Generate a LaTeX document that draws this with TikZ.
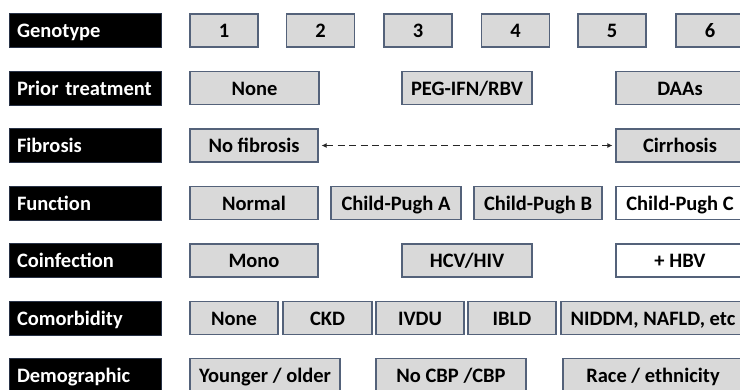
\documentclass[tikz,border=0pt]{standalone}
\usepackage{fontspec}
\setmainfont{Carlito}
\usepackage{tikz}
\usetikzlibrary{arrows.meta, positioning}
\usepackage{xcolor}
\definecolor{boxfill}{RGB}{217, 217, 217}
\definecolor{boxedge}{RGB}{84, 98, 122}
\definecolor{tagedge}{RGB}{40, 50, 70}

\begin{document}
\begin{tikzpicture}[x=1pt, y=-1pt, >=Latex,
    font=\bfseries\fontsize{20.5}{24}\selectfont,
    tag/.style={draw=tagedge, line width=1pt, fill=black, text=white,
      text width=136pt, inner xsep=8pt, inner ysep=0pt, minimum height=34pt,
      text height=16pt, text depth=2pt, align=left},
    opt/.style={draw=boxedge, line width=1.2pt, fill=boxfill,
      minimum height=33pt, inner sep=0pt, text height=16pt, text depth=2pt},
    optw/.style={opt, fill=white}]
  \useasboundingbox (0,0) rectangle (740,389);
  \clip (0,0) rectangle (740,389);

  % row labels
  \node[tag] (gen)   at (85,30.5)  {Genotype};
  \node[tag] (prior) at (85,88)    {Prior treatment};
  \node[tag] (fib)   at (85,145.5) {Fibrosis};
  \node[tag] (func)  at (85,203)   {Function};
  \node[tag] (coinf) at (85,260.5) {Coinfection};
  \node[tag] (comor) at (85,318)   {Comorbidity};
  \node[tag] (demo)  at (85,375)   {Demographic};

  % genotype
  \node[opt, minimum width=68pt] (g1) at (224,30.5)   {1};
  \node[opt, minimum width=68pt] (g2) at (320.5,30.5) {2};
  \node[opt, minimum width=68pt] (g3) at (418,30.5)   {3};
  \node[opt, minimum width=68pt] (g4) at (515.5,30.5) {4};
  \node[opt, minimum width=68pt] (g5) at (612,30.5)   {5};
  \node[opt, minimum width=68pt] (g6) at (710,30.5)   {6};

  % prior treatment
  \node[opt, minimum width=129pt] (naive) at (254.5,88) {None};
  \node[opt, minimum width=130pt] (peg)   at (467,88)   {PEG-IFN/RBV};
  \node[opt, minimum width=128pt] (daa)   at (680,88)   {DAAs};

  % fibrosis
  \node[opt, minimum width=128pt] (nofib) at (254,145.5) {No fibrosis};
  \node[opt, minimum width=128pt] (cirrh) at (680,145.5) {Cirrhosis};
  \draw[line width=1.9pt, dash pattern=on 7pt off 4.5pt, color=black!85,
    shorten <=3pt, shorten >=3pt, {Latex[length=5pt, width=5pt]}-{Latex[length=5pt, width=5pt]}]
    (nofib) -- (cirrh);

  % function
  \node[opt, minimum width=128pt] (norm) at (254,203) {Normal};
  \node[opt, minimum width=130pt] (cpa)  at (396,203) {Child-Pugh A};
  \node[opt, minimum width=128pt] (cpb)  at (538,203) {Child-Pugh B};
  \node[optw, minimum width=128pt] (cpc) at (680,203) {Child-Pugh C};

  % coinfection
  \node[opt, minimum width=128pt] (mono) at (254,260.5) {Mono};
  \node[opt, minimum width=130pt] (hiv)  at (467,260.5) {HCV/HIV};
  \node[optw, minimum width=128pt] (hbv) at (680,260.5) {+ HBV};

  % comorbidity
  \node[opt, minimum width=88pt]  (nocm)  at (234,318)   {None};
  \node[opt, minimum width=89pt]  (ckd)   at (327.5,318) {CKD};
  \node[opt, minimum width=88pt]  (ivdu)  at (420,318)   {IVDU};
  \node[opt, minimum width=88pt]  (ibld)  at (512,318)   {IBLD};
  \node[opt, minimum width=184pt] (niddm) at (653,318)   {NIDDM, NAFLD, etc};

  % demographic
  \node[opt, minimum width=150pt] (age)  at (265,375) {Younger / older};
  \node[opt, minimum width=150pt] (cbp)  at (451,375) {No CBP /CBP};
  \node[opt, minimum width=180pt] (race) at (653,375) {Race / ethnicity};
\end{tikzpicture}
\end{document}
